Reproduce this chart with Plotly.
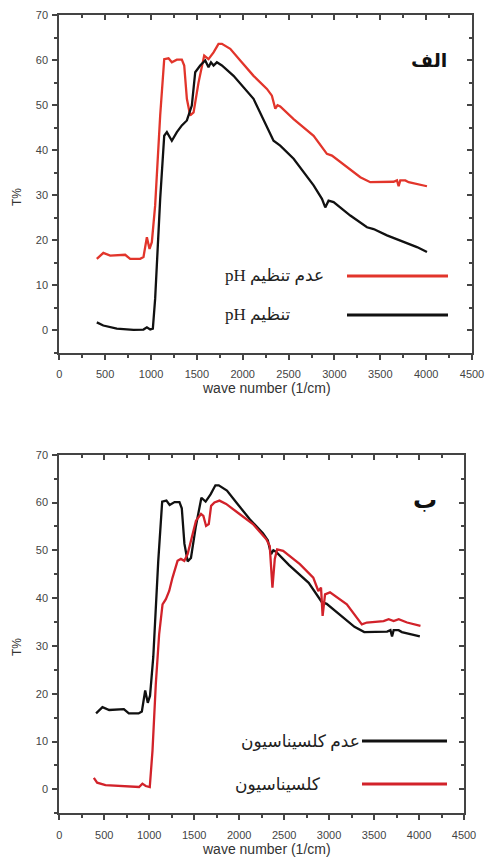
import plotly.graph_objects as go

# ---------------- Data ----------------
# Panel الف : عدم تنظیم pH (red) / تنظیم pH (black)
no_ph_x = [409, 480, 555, 664, 718, 773, 882, 918, 955, 984, 1009, 1045, 1100, 1144, 1191, 1227, 1282, 1336,
           1362, 1391, 1427, 1464, 1518, 1580, 1627, 1682, 1736, 1773, 1864, 1973, 2118, 2264, 2318, 2355,
           2380, 2409, 2555, 2773, 2918, 2973, 3136, 3282, 3391, 3536, 3645, 3682, 3700, 3718, 3773, 3809,
           3900, 4009]
no_ph_y = [15.9, 17.2, 16.6, 16.8, 16.8, 15.9, 15.9, 16.3, 20.7, 18.1, 19.6, 27.7, 47.7, 60.2, 60.4, 59.5, 60.1, 60.1,
           58.8, 51.4, 47.7, 48.4, 55.0, 61.0, 60.2, 61.7, 63.6, 63.6, 62.5, 59.9, 56.5, 53.6, 52.1, 49.2,
           50.0, 49.7, 46.9, 43.2, 39.2, 38.8, 36.2, 34.0, 32.9, 33.0, 33.0, 33.3, 32.0, 33.3, 33.3, 32.9,
           32.5, 32.0]

ph_x = [409, 480, 627, 809, 918, 955, 991, 1020, 1045, 1100, 1144, 1173, 1227, 1282, 1336, 1391, 1445, 1482,
        1536, 1591, 1627, 1654, 1682, 1718, 1773, 1900, 2118, 2336, 2409, 2555, 2773, 2845, 2864, 2900,
        2936, 2991, 3173, 3355, 3427, 3573, 3718, 3900, 4009]
ph_y = [1.8, 1.1, 0.4, 0.15, 0.2, 0.7, 0.2, 0.4, 7.0, 29.2, 43.2, 44.0, 42.1, 44.0, 45.5, 46.6, 49.9, 57.3,
        58.8, 59.9, 58.4, 59.5, 58.8, 59.5, 58.8, 56.5, 51.4, 42.1, 41.0, 38.1, 32.2, 29.9, 29.2, 27.3,
        28.8, 28.5, 25.5, 22.9, 22.5, 21.1, 20.0, 18.5, 17.4]

# Panel ب : عدم کلسیناسیون (black, same sample as no pH control) / کلسیناسیون (red)
calc_x = [384, 421, 514, 663, 812, 887, 924, 961, 1006, 1036, 1073, 1110, 1148, 1185, 1222, 1259, 1315, 1352,
          1390, 1427, 1464, 1520, 1576, 1602, 1632, 1662, 1688, 1725, 1781, 1855, 2004, 2153, 2302, 2340,
          2370, 2396, 2422, 2489, 2675, 2824, 2880, 2910, 2928, 2955, 3010, 3197, 3364, 3420, 3606, 3662,
          3718, 3774, 3867, 4016]
calc_y = [2.4, 1.4, 0.9, 0.7, 0.5, 0.5, 1.2, 0.7, 0.5, 8.0, 22.0, 32.4, 38.7, 39.8, 41.5, 44.3, 47.8, 48.2,
          47.8, 49.2, 52.0, 56.2, 57.6, 57.2, 55.1, 55.5, 59.3, 60.0, 60.4, 59.7, 57.6, 55.5, 52.3, 50.9,
          42.2, 48.2, 50.2, 49.9, 47.1, 44.3, 41.5, 42.2, 36.3, 40.8, 41.2, 38.7, 34.5, 34.9, 35.2, 35.6,
          35.2, 35.6, 34.9, 34.2]

x_ticks = [0, 500, 1000, 1500, 2000, 2500, 3000, 3500, 4000, 4500]
y_ticks = [0, 10, 20, 30, 40, 50, 60, 70]

RED_A = "#e2352b"
RED_B = "#d2222a"
BLACK = "#111111"

# page has an 8px body margin: size the figure to fit and work in page pixels
W, H, OFF = 478, 852, 8
def px(x):
    return (x - OFF) / W
def py(y):
    return 1 - (y - OFF) / H

fig = go.Figure()
fig.add_trace(go.Scatter(x=no_ph_x, y=no_ph_y, mode="lines", line=dict(color=RED_A, width=2.3),
                         xaxis="x", yaxis="y", showlegend=False))
fig.add_trace(go.Scatter(x=ph_x, y=ph_y, mode="lines", line=dict(color=BLACK, width=2.3),
                         xaxis="x", yaxis="y", showlegend=False))
fig.add_trace(go.Scatter(x=no_ph_x, y=no_ph_y, mode="lines", line=dict(color=BLACK, width=2.3),
                         xaxis="x2", yaxis="y2", showlegend=False))
fig.add_trace(go.Scatter(x=calc_x, y=calc_y, mode="lines", line=dict(color=RED_B, width=2.3),
                         xaxis="x2", yaxis="y2", showlegend=False))

tickfont = dict(family="Liberation Sans, Arial", size=11, color="#444")
axcol = "#444"

def xax(domain, anchor):
    return dict(domain=domain, anchor=anchor, range=[0, 4500], tickvals=x_ticks, automargin=False,
                ticks="outside", ticklen=5, tickwidth=1.5, tickcolor=axcol, ticklabelstandoff=5,
                minor=dict(dtick=250, tick0=0, ticks="outside", ticklen=3, tickcolor=axcol, tickwidth=1.5),
                showline=True, linecolor=axcol, linewidth=2, mirror=True,
                showgrid=False, zeroline=False, tickfont=tickfont)

def yax(domain, anchor):
    return dict(domain=domain, anchor=anchor, range=[-5, 70], tickvals=y_ticks, automargin=False,
                ticks="outside", ticklen=5, tickwidth=1.5, tickcolor=axcol, ticklabelstandoff=2,
                minor=dict(dtick=5, tick0=0, ticks="outside", ticklen=3, tickcolor=axcol, tickwidth=1.5),
                showline=True, linecolor=axcol, linewidth=2, mirror=True,
                showgrid=False, zeroline=False, tickfont=tickfont)

def xin(overlay, anchor):
    return dict(overlaying=overlay, anchor=anchor, side="top", range=[0, 4500], tickvals=x_ticks,
                automargin=False,
                ticks="inside", ticklen=5, tickwidth=1.5, tickcolor=axcol, showticklabels=False,
                minor=dict(dtick=250, tick0=0, ticks="inside", ticklen=3, tickcolor=axcol, tickwidth=1.5),
                showline=False, showgrid=False, zeroline=False)

def yin(overlay, anchor):
    return dict(overlaying=overlay, anchor=anchor, side="right", range=[-5, 70], tickvals=y_ticks,
                automargin=False,
                ticks="inside", ticklen=5, tickwidth=1.5, tickcolor=axcol, showticklabels=False,
                minor=dict(dtick=5, tick0=0, ticks="inside", ticklen=3, tickcolor=axcol, tickwidth=1.5),
                showline=False, showgrid=False, zeroline=False)

dom_x1 = [px(59.3), px(472)]
dom_y1 = [py(353), py(15)]
dom_x2 = [px(59.3), px(464)]
dom_y2 = [py(813.3), py(454.7)]

fig.update_layout(
    width=W, height=H,
    margin=dict(l=0, r=0, t=0, b=0, autoexpand=False),
    paper_bgcolor="white", plot_bgcolor="white",
    showlegend=False,
    xaxis=xax(dom_x1, "y"), yaxis=yax(dom_y1, "x"),
    xaxis2=xax(dom_x2, "y2"), yaxis2=yax(dom_y2, "x2"),
    xaxis3=xin("x", "y"), yaxis3=yin("y", "x"),
    xaxis4=xin("x2", "y2"), yaxis4=yin("y2", "x2"),
)

# invisible traces to make overlay axes render
for xa, ya in [("x3", "y3"), ("x4", "y4")]:
    fig.add_trace(go.Scatter(x=[None], y=[None], xaxis=xa, yaxis=ya, showlegend=False, hoverinfo="skip"))

RLE, PDF = "\u202b", "\u202c"
serif = "Liberation Serif, DejaVu Serif, DejaVu Sans"
legfont = dict(family=serif, size=17, color="#222")
ann = []
shapes = []

def note(text, x, y, font, xanchor="center", angle=0):
    ann.append(dict(text=text, x=px(x), y=py(y), xref="paper", yref="paper", xanchor=xanchor,
                    yanchor="middle", showarrow=False, font=font, textangle=angle))

def legline(x0, x1, y, color):
    shapes.append(dict(type="line", xref="paper", yref="paper", x0=px(x0), x1=px(x1), y0=py(y), y1=py(y),
                       line=dict(color=color, width=3)))

# Legend panel الف
legline(347, 448, 276, RED_A)
legline(347, 448, 315, BLACK)
note(RLE + "عدم تنظیم pH" + PDF, 223, 276, legfont, "left")
note(RLE + "تنظیم pH" + PDF, 223, 315, legfont, "left")

# Legend panel ب
legline(362, 447, 741, BLACK)
legline(362, 447, 784, RED_B)
note("عدم کلسیناسیون", 362, 741, legfont, "right")
note("کلسیناسیون", 233, 784, legfont, "left")

# Panel labels
note("<b>الف</b>", 429, 60, dict(family="DejaVu Sans", size=19, color="#111"))
note("<b>ب</b>", 425, 500, dict(family="DejaVu Sans", size=24, color="#111"))

# Axis titles
titlefont = dict(family="Liberation Sans, Arial", size=14, color="#333")
note("wave number (1/cm)", 266, 388, titlefont)
note("wave number (1/cm)", 266, 849, titlefont)
yfont = dict(family="Liberation Sans, Arial", size=12, color="#333")
note("T%", 17, 197, yfont, angle=-90)
note("T%", 17, 647, yfont, angle=-90)

fig.update_layout(annotations=ann, shapes=shapes)

fig.write_html("out.html")
